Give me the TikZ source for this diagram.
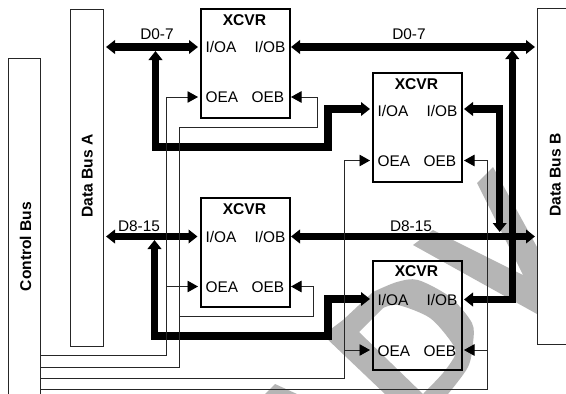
\documentclass[tikz,border=0pt]{standalone}
\usepackage{fontspec}
\setmainfont{Liberation Sans}
\usetikzlibrary{arrows.meta}
\definecolor{wm}{gray}{0.71}
\tikzset{
  x=1pt,y=-1pt,
  busbox/.style={draw=black!85,line width=0.9pt,fill=white,inner sep=0pt,anchor=north west},
  xcvr/.style={draw=black,line width=2pt,inner sep=0pt,anchor=north west,minimum width=89pt,minimum height=109pt},
  bothbus/.style={line width=7.5pt,line join=miter,{Triangle[length=9pt,width=13.5pt]}-{Triangle[length=9pt,width=13.5pt]}},
  sig/.style={draw=black!85,line width=0.9pt,line join=miter,-{Triangle[length=10.5pt,width=11.5pt,fill=black,color=black]}},
  lab/.style={font=\fontsize{15.4}{15}\selectfont,inner sep=0pt,text height=11pt,text depth=0pt},
  blab/.style={lab,font=\fontsize{15.6}{15}\selectfont\bfseries},
}
\begin{document}
\begin{tikzpicture}
\useasboundingbox (0,0) rectangle (566,394);
\fill[white] (0,0) rectangle (566,394);
% watermark
\begin{scope}
\clip (0,0) rectangle (566,394);
\fill[wm,even odd rule]
  (323,335) -- (343,320) -- plot[smooth] coordinates {(373,292) (397,282) (418,280) (450,297) (472,323) (473,343) (468,367) (448,394)} -- (385,394) -- cycle
  (359,332) -- plot[smooth] coordinates {(383,308) (398,305) (430,318) (452,343) (455,355) (443,373) (423,394)} -- cycle;
\fill[wm] (493,167) -- (537,247) -- (537,314) -- (413,245) -- (433,230) -- (523,275) -- (477,183) -- cycle;
\fill[wm] (275,384) -- (265,394) -- (297,394) -- cycle;
% bus boxes, running off the page
\node[busbox,minimum width=32.5pt,minimum height=350pt] (ctl) at (7.5,58) {};
\node[busbox,minimum width=40pt,minimum height=336.5pt] (dbb) at (537,7.5) {};
\end{scope}
\node[busbox,minimum width=33pt,minimum height=337pt] (dba) at (70,8.5) {};
\node[blab,rotate=90] (ctltxt) at (25.5,246.5) {Control Bus};
\node[blab,rotate=90] (dbatxt) at (87,176) {Data Bus A};
\node[blab,rotate=90] (dbbtxt) at (555,175) {Data Bus B};
% transceivers
\node[xcvr] (xa) at (200,7.5) {};
\node[xcvr] (xb) at (372,71.5) {};
\node[xcvr] (xc) at (200,196.5) {};
\node[xcvr] (xd) at (372,259.5) {};
\node[blab] (ta) at (244.5,20) {XCVR};
\node[blab] (tb) at (416.5,84) {XCVR};
\node[blab] (tc) at (244.5,209) {XCVR};
\node[blab] (td) at (416.5,271) {XCVR};
% port labels
\node[lab] (aia) at (221,47) {I/OA};
\node[lab] (aib) at (270,47) {I/OB};
\node[lab] (aea) at (222,97) {OEA};
\node[lab] (aeb) at (268,97) {OEB};
\node[lab] (bia) at (393,111) {I/OA};
\node[lab] (bib) at (442,111) {I/OB};
\node[lab] (bea) at (394,161) {OEA};
\node[lab] (beb) at (440,161) {OEB};
\node[lab] (cia) at (221,236.5) {I/OA};
\node[lab] (cib) at (270,236.5) {I/OB};
\node[lab] (cea) at (222,286.5) {OEA};
\node[lab] (ceb) at (268,286.5) {OEB};
\node[lab] (dia) at (393,299.5) {I/OA};
\node[lab] (dib) at (442,299.5) {I/OB};
\node[lab] (dea) at (394,350.5) {OEA};
\node[lab] (deb) at (440,350.5) {OEB};
% bus labels
\node[lab] (l1) at (157,33.5) {D0-7};
\node[lab] (l2) at (409,33.5) {D0-7};
\node[lab] (l3) at (139,226) {D8-15};
\node[lab] (l4) at (411,226) {D8-15};
% port coordinates
\coordinate (pa1) at (198,47);   \coordinate (pa2) at (291,47);
\coordinate (pa3) at (198,97);   \coordinate (pa4) at (291,97);
\coordinate (pb1) at (370,109);  \coordinate (pb2) at (464,109);
\coordinate (pb3) at (370,160.5);\coordinate (pb4) at (464,160.5);
\coordinate (pc1) at (197.5,236.5); \coordinate (pc2) at (291,236.5);
\coordinate (pc3) at (198,286.5);\coordinate (pc4) at (291,286.5);
\coordinate (pd1) at (370,299);  \coordinate (pd2) at (464,299.5);
\coordinate (pd3) at (370,350);  \coordinate (pd4) at (464,350);
\coordinate (dbaa) at (106,47);  \coordinate (dbab) at (106,236.5);
\coordinate (dbba) at (535,47);  \coordinate (dbbb) at (535,236.5);
\coordinate (c1) at (40,355.7);  \coordinate (c2) at (40,367);
\coordinate (c3) at (40,378.7);  \coordinate (c4) at (40,389.7);
\coordinate (ja) at (155.5,51);  \coordinate (jb) at (154.5,240);
\coordinate (jc) at (512.3,50);  \coordinate (jd) at (499.7,232);
% data buses
\draw[bothbus] (dbaa) -- (pa1);
\draw[bothbus] (dbab) -- (pc1);
\draw[bothbus] (pa2) -- (dbba);
\draw[bothbus] (pc2) -- (dbbb);
\draw[bothbus] (ja) -- (155.5,147) -- (328,147) -- (328,109) -- (pb1);
\draw[bothbus] (jb) -- (154.5,336) -- (328,336) -- (328,299) -- (pd1);
\draw[bothbus] (pb2) -- (499.7,109) -- (jd);
\draw[bothbus] (jc) -- (512.3,299.5) -- (pd2);
% control lines
\draw[sig] (c1) -- (166,355.7) -- (166,97) -- (pa3);
\draw[sig] (166,286.5) -- (pc3);
\draw[sig] (c2) -- (179,367) -- (179,127) -- (317,127) -- (317,97) -- (pa4);
\draw[sig] (179,316) -- (313,316) -- (313,286.5) -- (pc4);
\draw[sig] (c3) -- (344,378.7) -- (344,160.5) -- (pb3);
\draw[sig] (344,350) -- (pd3);
\draw[sig] (c4) -- (487,389.7) -- (487,160.5) -- (pb4);
\draw[sig] (487,350) -- (pd4);
\end{tikzpicture}
\end{document}
